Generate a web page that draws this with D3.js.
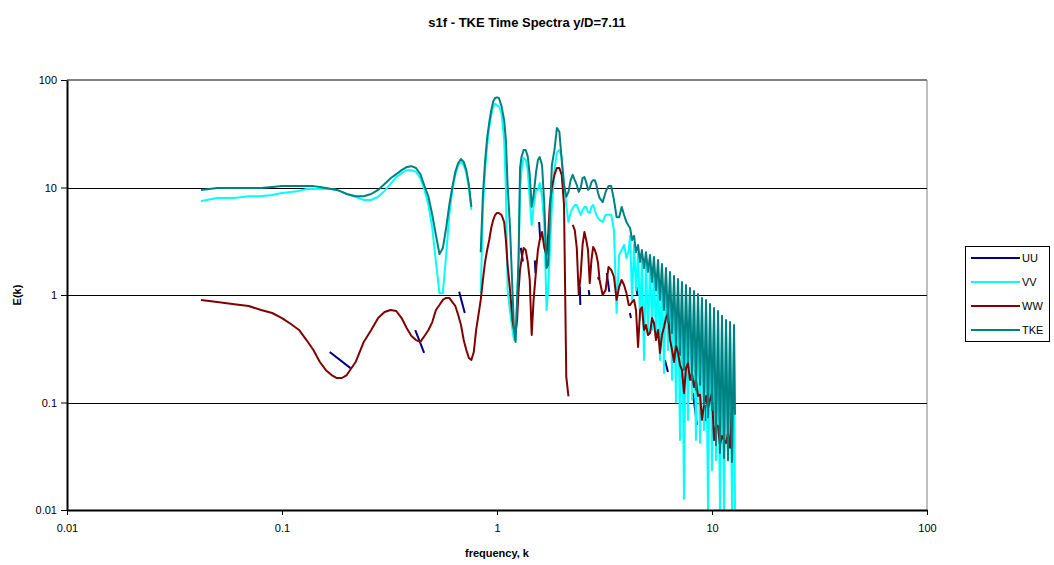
<!DOCTYPE html>
<html><head><meta charset="utf-8">
<script src="https://cdn.jsdelivr.net/npm/d3@7"></script>
<style>
body{margin:0;background:#fff}
svg{display:block}
text{font-family:"Liberation Sans",Arial,sans-serif;fill:#000}
</style>
</head><body>
<svg id="c" width="1054" height="565"></svg>
<script>
// ---------- data ----------
const freq = [
  0.042,0.05,0.06,0.07,0.08,0.09,0.1,0.11,0.12,0.13,
  0.14,0.15,0.16,0.17,0.18,0.19,0.2,0.22,0.24,0.26,
  0.28,0.3,0.32,0.34,0.36,0.38,0.4,0.42,0.44,0.46,
  0.48,0.5,0.52,0.54,0.56,0.58,0.6,0.62,0.64,0.66,
  0.68,0.7,0.72,0.74,0.76,0.78,0.8,0.82,0.84,0.86,
  0.88,0.9,0.92,0.94,0.96,0.98,1.0,1.02,1.05,1.08,
  1.1,1.12,1.15,1.18,1.2,1.22,1.24,1.26,1.28,1.3,
  1.33,1.36,1.39,1.42,1.45,1.48,1.52,1.55,1.58,1.62,
  1.66,1.7,1.73,1.76,1.8,1.85,1.9,1.95,2.0,2.05,
  2.1,2.15,2.2,2.25,2.3,2.35,2.4,2.45,2.5,2.55,
  2.6,2.65,2.7,2.75,2.8,2.85,2.9,2.95,3.0,3.1,
  3.2,3.3,3.4,3.5,3.6,3.7,3.8,3.9,4.0,4.1,
  4.16,4.25,4.34,4.43,4.53,4.63,4.72,4.83,4.93,5.04,
  5.15,5.26,5.37,5.49,5.61,5.73,5.85,5.98,6.11,6.24,
  6.38,6.52,6.66,6.80,6.95,7.10,7.25,7.41,7.57,7.73,
  7.90,8.07,8.25,8.42,8.61,8.80,8.98,9.18,9.38,9.58,
  9.79,10.0,10.22,10.44,10.67,10.89,11.13,11.37,11.62,11.87,
  12.13,12.39,12.66,12.79
];
const vvE = [
  7.5,8.0,8.0,8.3,8.3,8.5,8.9,9.1,9.3,9.7,
  9.7,9.7,9.7,9.7,9.5,9.1,8.7,8.2,7.65,7.65,
  8.2,9.3,10.8,12.5,13.6,14.5,14.5,14.0,12.2,9.5,
  6.87,4.2,2.03,1.04,1.04,2.36,5.55,9.5,13.1,16.2,
  17.3,16.2,13.6,9.9,6.2,null,null,null,1.04,6.2,
  14.5,24.8,35.8,47,56,60,58,57,49,27.6,
  9.5,1.11,0.7,0.473,0.381,0.381,0.9,2.03,9.5,14.5,
  18.8,18,14.5,7.65,4.48,6.6,9.5,9.5,11,8.2,
  4.48,0.725,1.11,2.46,6.6,14.5,21.3,22.3,19.2,10.6,
  6.87,4.77,5.9,6.4,6.87,6.87,6.17,5.55,6.17,6.6,
  6.6,5.9,5.8,6.6,6.87,6.17,5.55,5.2,5.0,4.77,
  5.55,5.6,5.55,4.02,0.68,2.36,2.62,2.92,2.2,2.62,
  3.55,0.9,2.98,1.11,2.46,0.585,2.2,0.249,2.12,0.424,
  1.98,0.473,1.9,0.381,1.78,0.249,1.64,0.188,1.5,0.308,
  1.38,0.162,1.27,0.1,1.19,0.0447,1.11,0.0127,1.04,0.0688,
  0.98,0.106,0.92,0.0447,0.86,0.042,0.79,0.0555,0.757,0.0101,
  0.695,0.0234,0.64,0.029,0.6,0.0101,0.537,0.0101,0.493,0.029,
  0.473,0.0101,0.443,0.0101
];
const wwE = [
  0.9,0.86,0.82,0.79,0.725,0.68,0.61,0.537,0.473,0.381,
  0.308,0.238,0.2,0.18,0.169,0.169,0.18,0.238,0.366,0.473,
  0.61,0.695,0.725,0.71,0.61,0.493,0.416,0.381,0.366,0.416,
  0.473,0.56,0.725,0.807,0.9,0.94,0.94,0.86,0.79,0.652,
  0.526,0.381,0.308,0.259,0.249,0.295,0.473,0.652,0.9,1.38,
  2.03,2.62,3.25,4.2,4.98,5.55,5.8,5.8,5.55,4.77,
  3.25,1.9,1.11,0.585,0.473,0.443,0.585,1.11,1.71,2.12,
  2.74,2.62,2.03,1.38,0.424,0.9,1.71,2.62,3.25,3.85,
  2.74,2.36,3.6,6.87,10.1,13.1,15.2,15.2,13.1,6.87,
  0.173,0.114,null,4.48,4.02,2.74,1.0,1.53,2.92,3.85,
  3.25,2.62,1.29,2.12,2.8,2.62,2.36,1.98,1.38,1.0,
  1.11,1.82,1.71,1.47,0.9,1.19,1.38,1.24,1.04,0.807,
  0.807,0.86,0.9,0.725,0.328,0.725,0.77,0.473,0.526,0.424,
  0.443,0.61,0.55,0.381,0.473,0.289,0.424,0.5,0.61,0.676,
  0.381,0.308,0.238,0.343,0.289,0.223,0.201,0.122,0.209,0.233,
  0.162,0.188,0.139,0.162,0.115,0.118,0.0688,0.095,0.115,0.0888,
  0.106,0.122,0.0447,0.0622,0.0598,0.0403,0.0489,0.0447,0.042,0.052,
  0.038,0.0888,0.0888,0.0888
];
const tkeE = [
  9.5,9.9,9.9,9.9,9.9,10.1,10.3,10.3,10.3,10.3,
  10.3,10.1,9.9,9.7,9.5,9.1,8.7,8.3,8.3,8.7,
  9.5,10.8,12.2,13.3,14.5,15.5,15.8,15.2,13.3,10.3,
  8.2,5.55,3.6,2.4,2.74,4.2,6.87,10.1,14.0,16.9,
  18.4,17.3,14.5,10.6,6.6,null,null,null,2.5,8.5,
  17.3,28.9,40,52,63,68,69,68,57,42,
  27.6,10.6,4.2,1.1,0.47,0.366,0.9,2.2,15.2,19.2,
  22.3,22.3,19.5,13.1,6.6,8.5,14,18,19.2,16.2,
  6.9,1.78,1.9,5.0,16.2,22.3,35.8,33,18,10.6,
  8.2,9.1,11.7,13.1,11.7,10.6,9.1,9.9,12.2,12.5,
  11.2,9.5,9.9,11.2,11.7,11.7,10.6,8.9,8.0,7.3,
  9.1,10.3,10.3,7.65,5.3,5.3,6.6,5.55,4.77,4.38,
  4.2,3.25,3.55,2.5,2.92,2.03,2.62,1.78,2.5,1.64,
  2.36,1.32,2.26,1.11,2.12,0.899,1.94,0.725,1.78,0.56,
  1.64,0.443,1.5,0.343,1.41,0.277,1.32,0.201,1.24,0.238,
  1.16,0.162,1.09,0.131,1.02,0.146,0.94,0.095,0.899,0.073,
  0.825,0.0853,0.757,0.04,0.71,0.034,0.64,0.0305,0.585,0.029,
  0.56,0.028,0.526,0.077
];
// UU is visible only in short pieces (elsewhere hidden under the other curves)
const uuK = [0.1667,0.2083,null,0.4167,0.4583,null,0.6667,0.7083,null,1.29,1.32,null,
  1.5,1.51,null,1.57,1.59,null,2.43,2.44,null,2.67,2.69,null,2.95,2.98,null,3.24,3.33,null,
  4.15,4.2,null,4.45,4.5,null,6.04,6.24,null,8.16,8.51,null,9.27,9.38];
const uuE = [0.295,0.209,null,0.472,0.289,null,1.07,0.68,null,2.75,2.05,null,
  2.1,1.6,null,4.77,3.25,null,1.19,0.807,null,1.11,1.0,null,1.47,1.38,null,1.6,1.07,null,
  0.68,0.61,null,1.19,0.98,null,0.249,0.192,null,0.122,0.062,null,0.095,0.067];

const xTicks = [0.01,0.1,1,10,100];
const xTickLabels = ["0.01","0.1","1","10","100"];
const yTicks = [0.01,0.1,1,10,100];
const yTickLabels = ["0.01","0.1","1","10","100"];
const gridValues = [0.1,1,10];
const seriesNames = ["UU","VV","WW","TKE"];
const seriesColors = ["#000080","#00FFFF","#800000","#008080"];
const titleText = "s1f - TKE Time Spectra y/D=7.11";
const xTitle = "frequency, k";
const yTitle = "E(k)";

[vvE, wwE, tkeE].forEach((a,i)=>{ if(a.length!==freq.length) throw new Error("length mismatch "+i+" "+a.length+" vs "+freq.length); });

// ---------- drawing ----------
const svg = d3.select("#c");
const L = 67, R = 927, T = 80, B = 510;
const x = d3.scaleLog().domain([0.01,100]).range([L,R]);
const y = d3.scaleLog().domain([0.01,100]).range([B,T]);

svg.append("text").attr("x",527).attr("y",27).attr("text-anchor","middle")
  .style("font-size","13px").style("font-weight","bold").text(titleText);

// plot frame (top/right grey)
svg.append("line").attr("x1",L).attr("x2",R).attr("y1",T).attr("y2",T).attr("stroke","#808080").attr("stroke-width",2);
svg.append("line").attr("x1",R).attr("x2",R).attr("y1",T).attr("y2",B).attr("stroke","#808080").attr("stroke-width",1);

// grid
svg.append("g").selectAll("line").data(gridValues).join("line")
  .attr("x1",L).attr("x2",R).attr("y1",d=>Math.round(y(d))+0.5).attr("y2",d=>Math.round(y(d))+0.5)
  .attr("stroke","#000").attr("stroke-width",1);

// clip
svg.append("defs").append("clipPath").attr("id","clip").append("rect")
  .attr("x",L).attr("y",T).attr("width",R-L).attr("height",B-T);

const line = d3.line().defined(d=>d[1]!=null && d[0]!=null).x(d=>x(d[0])).y(d=>y(d[1]));
const series = [
  uuK.map((k,i)=>[k,uuE[i]]),
  freq.map((k,i)=>[k,vvE[i]]),
  freq.map((k,i)=>[k,wwE[i]]),
  freq.map((k,i)=>[k,tkeE[i]])
];
const gLines = svg.append("g").attr("clip-path","url(#clip)");
series.forEach((s,i)=>{
  gLines.append("path").datum(s).attr("d",line).attr("fill","none")
    .attr("stroke",seriesColors[i]).attr("stroke-width",2).attr("stroke-linejoin","round");
});

// axes
const yAxis = d3.axisLeft(y).tickValues(yTicks).tickFormat((d,i)=>yTickLabels[i]).tickSize(6).tickSizeOuter(0);
const gy = svg.append("g").attr("transform",`translate(${L},0)`).call(yAxis);
const xAxis = d3.axisBottom(x).tickValues(xTicks).tickFormat((d,i)=>xTickLabels[i]).tickSize(5).tickSizeOuter(0);
const gx = svg.append("g").attr("transform",`translate(0,${B})`).call(xAxis);
[gx,gy].forEach(g=>{
  g.select(".domain").attr("stroke","#000").attr("stroke-width",2);
  g.selectAll(".tick line").attr("stroke","#000").attr("stroke-width",1);
  g.selectAll(".tick text").style("font-size","11px").style("font-family","'Liberation Sans',Arial,sans-serif").attr("fill","#000");
});
gx.selectAll(".tick text").attr("dy","1.3em");
gy.selectAll(".tick text").attr("dx","-1px");

svg.append("text").attr("x",497).attr("y",557).attr("text-anchor","middle")
  .style("font-size","11px").style("font-weight","bold").text(xTitle);
svg.append("text").attr("transform","translate(21,295) rotate(-90)").attr("text-anchor","middle")
  .style("font-size","11px").style("font-weight","bold").text(yTitle);

// legend
const lg = svg.append("g");
lg.append("rect").attr("x",965.5).attr("y",246.5).attr("width",84).attr("height",95)
  .attr("fill","#fff").attr("stroke","#000").attr("stroke-width",1);
seriesNames.forEach((n,i)=>{
  const yy = 258 + i*24;
  lg.append("line").attr("x1",971).attr("x2",1020).attr("y1",yy).attr("y2",yy)
    .attr("stroke",seriesColors[i]).attr("stroke-width",2);
  lg.append("text").attr("x",1022).attr("y",yy+4).style("font-size","11px").text(n);
});
</script>
</body></html>
